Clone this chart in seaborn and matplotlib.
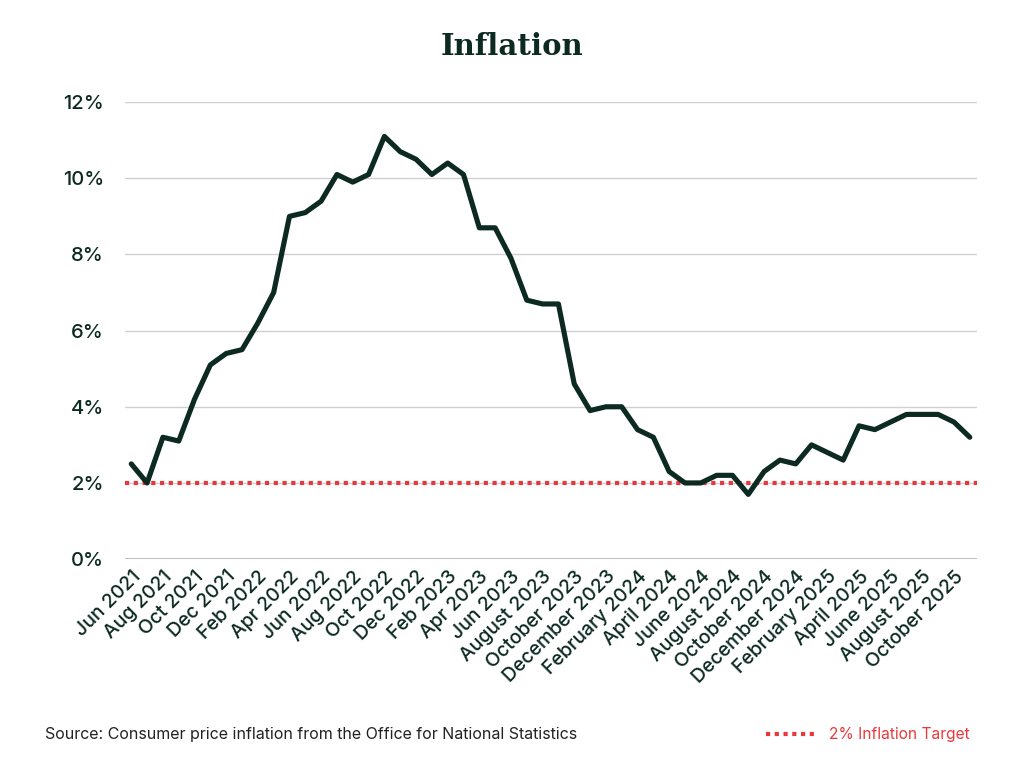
import matplotlib
matplotlib.use("Agg")
import matplotlib.pyplot as plt
import seaborn as sns
import pandas as pd

months = [
    "Jun 2021", "Jul 2021", "Aug 2021", "Sep 2021", "Oct 2021", "Nov 2021", "Dec 2021",
    "Jan 2022", "Feb 2022", "Mar 2022", "Apr 2022", "May 2022", "Jun 2022", "Jul 2022",
    "Aug 2022", "Sep 2022", "Oct 2022", "Nov 2022", "Dec 2022",
    "Jan 2023", "Feb 2023", "Mar 2023", "Apr 2023", "May 2023", "Jun 2023", "July 2023",
    "August 2023", "September 2023", "October 2023", "November 2023", "December 2023",
    "January 2024", "February 2024", "March 2024", "April 2024", "May 2024", "June 2024",
    "July 2024", "August 2024", "September 2024", "October 2024", "November 2024", "December 2024",
    "January 2025", "February 2025", "March 2025", "April 2025", "May 2025", "June 2025",
    "July 2025", "August 2025", "September 2025", "October 2025", "November 2025",
]
cpi = [
    2.5, 2.0, 3.2, 3.1, 4.2, 5.1, 5.4,
    5.5, 6.2, 7.0, 9.0, 9.1, 9.4, 10.1, 9.9, 10.1, 11.1, 10.7, 10.5,
    10.1, 10.4, 10.1, 8.7, 8.7, 7.9, 6.8, 6.7, 6.7, 4.6, 3.9, 4.0,
    4.0, 3.4, 3.2, 2.3, 2.0, 2.0, 2.2, 2.2, 1.7, 2.3, 2.6, 2.5,
    3.0, 2.8, 2.6, 3.5, 3.4, 3.6, 3.8, 3.8, 3.8, 3.6, 3.2,
]
target = 2.0
y_ticks = [0, 2, 4, 6, 8, 10, 12]

df = pd.DataFrame({"pos": range(len(months)), "month": months, "cpi": cpi})

sns.set_theme(style="white")
plt.rcParams["font.family"] = ["Inter", "DejaVu Sans"]

dark = "#0c2a22"
red = "#e8383d"

fig = plt.figure(figsize=(10.24, 7.68), dpi=100)
ax = fig.add_axes([0.122, 0.272, 0.832, 0.595])

for v in y_ticks[1:]:
    ax.axhline(v, color="#d0d0d0", lw=1, zorder=0)
ax.axhline(0, color="#b3b8b6", lw=2, zorder=0)

ax.axhline(target, color=red, lw=3, ls=(0, (1, 1.1)), zorder=1)
sns.lineplot(data=df, x="pos", y="cpi", ax=ax, color=dark, lw=3.7, zorder=3)

ax.set_xlim(-0.4, len(months) - 0.55)
ax.set_ylim(0, 12)
ax.set_yticks(y_ticks)
ax.set_yticklabels([f"{v}%" for v in y_ticks], fontsize=14.5, color=dark, fontweight="medium")
ax.set_xticks(df["pos"][::2])
ax.set_xticklabels(df["month"][::2], rotation=45, ha="right", rotation_mode="anchor",
                   fontsize=14, color=dark, fontweight="medium")
ax.tick_params(axis="y", length=0, pad=15)
ax.tick_params(axis="x", length=0, pad=6)
ax.set_xlabel("")
ax.set_ylabel("")
sns.despine(ax=ax, left=True, bottom=True)

fig.text(0.5, 0.94, "Inflation", ha="center", va="center", fontsize=21,
         fontweight="bold", color=dark, family=["DejaVu Serif"])
fig.text(0.044, 0.044, "Source: Consumer price inflation from the Office for National Statistics",
         fontsize=11.5, color="#222222", va="center")

fig.lines.append(plt.Line2D([0.748, 0.796], [0.044, 0.044], transform=fig.transFigure,
                            color=red, lw=3, ls=(0, (1, 1.1))))
fig.text(0.81, 0.044, "2% Inflation Target", fontsize=11.2, color=red, va="center")

fig.savefig("out.png", dpi=100, facecolor="white")
